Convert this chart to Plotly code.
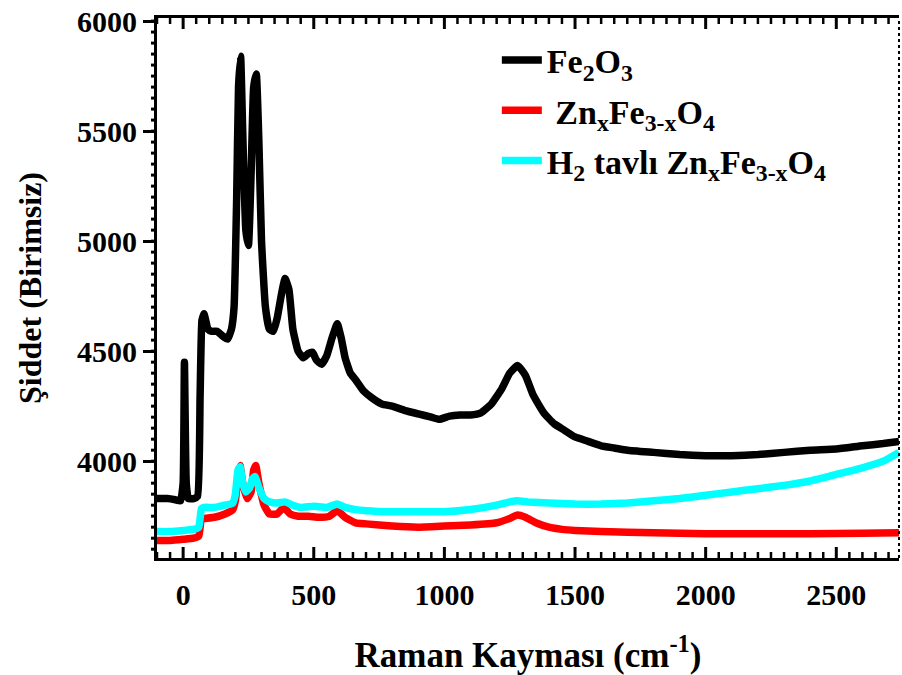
import plotly.graph_objects as go

# Fe2O3 (black)
fe_x = [-100, -60, -30, -10, 0, 5, 12, 20, 40, 55, 65, 72, 80, 95, 110, 130, 150, 170, 185, 195, 205, 212, 220, 228, 240, 250, 260, 270, 280, 290, 300, 315, 330, 345, 360, 375, 390, 405, 420, 440, 460, 480, 495, 510, 530, 550, 570, 590, 605, 620, 640, 660, 690, 720, 760, 800, 850, 900, 950, 980, 1020, 1060, 1100, 1140, 1180, 1220, 1250, 1280, 1310, 1340, 1380, 1420, 1460, 1500, 1550, 1600, 1650, 1700, 1800, 1900, 2000, 2100, 2200, 2300, 2400, 2500, 2600, 2680, 2740]
fe_y = [3830, 3830, 3825, 3820, 3900, 4450, 3900, 3830, 3830, 3840, 4300, 4640, 4670, 4600, 4590, 4590, 4570, 4555, 4600, 4700, 5200, 5700, 5840, 5500, 5050, 4980, 5300, 5700, 5760, 5450, 5000, 4700, 4600, 4590, 4650, 4750, 4830, 4780, 4600, 4500, 4470, 4490, 4495, 4460, 4440, 4480, 4560, 4625, 4560, 4470, 4400, 4370, 4320, 4290, 4260, 4250, 4230, 4215, 4200, 4190, 4205, 4210, 4210, 4220, 4260, 4330, 4400, 4435, 4390, 4300, 4220, 4170, 4140, 4110, 4090, 4070, 4060, 4050, 4040, 4030, 4025, 4025, 4030, 4040, 4050, 4055, 4070, 4080, 4090]

# ZnxFe3-xO4 (red)
zn_x = [-100, -50, 0, 40, 60, 70, 80, 120, 160, 190, 200, 210, 218, 228, 245, 260, 270, 278, 290, 310, 330, 360, 385, 410, 440, 480, 520, 560, 590, 620, 660, 700, 800, 900, 1000, 1100, 1200, 1250, 1280, 1310, 1350, 1400, 1450, 1500, 1600, 1800, 2000, 2200, 2400, 2600, 2740]
zn_y = [3640, 3640, 3645, 3650, 3660, 3740, 3740, 3745, 3760, 3780, 3820, 3930, 3980, 3900, 3830, 3860, 3960, 3980, 3900, 3800, 3760, 3760, 3790, 3760, 3750, 3750, 3745, 3750, 3775, 3745, 3720, 3715, 3705, 3700, 3705, 3710, 3720, 3740, 3755, 3745, 3720, 3700, 3690, 3685, 3680, 3675, 3670, 3670, 3670, 3672, 3675]

# H2 tavlı ZnxFe3-xO4 (cyan)
h2_x = [-100, -50, 0, 40, 60, 70, 80, 120, 160, 190, 200, 210, 218, 228, 240, 255, 265, 275, 290, 310, 330, 360, 390, 420, 450, 500, 550, 590, 620, 660, 700, 800, 900, 1000, 1100, 1200, 1250, 1280, 1320, 1400, 1500, 1600, 1700, 1800, 1900, 2000, 2100, 2200, 2300, 2400, 2500, 2600, 2680, 2740]
h2_y = [3680, 3680, 3685, 3690, 3700, 3785, 3790, 3790, 3800, 3810, 3850, 3960, 3975, 3900, 3860, 3880, 3920, 3930, 3880, 3830, 3815, 3810, 3815, 3800, 3790, 3795, 3790, 3805, 3790, 3780, 3775, 3770, 3770, 3770, 3780, 3800, 3815, 3820, 3815, 3810, 3805, 3805, 3810, 3820, 3830, 3845, 3860, 3875, 3890, 3910, 3940, 3970, 4000, 4040]

names = ["Fe<sub>2</sub>O<sub>3</sub>",
         " Zn<sub>x</sub>Fe<sub>3-x</sub>O<sub>4</sub>",
         "H<sub>2</sub> tavlı Zn<sub>x</sub>Fe<sub>3-x</sub>O<sub>4</sub>"]
colors = ["#000000", "#ff0000", "#00ffff"]

x_range = [-100, 2740]
y_range = [3560, 6014]
x_major = [0, 500, 1000, 1500, 2000, 2500]
x_minor = list(range(-100, 2741, 50))
y_minor = list(range(3600, 6001, 50))

FONT = "Liberation Serif"
W, H = 902, 675
ML, MR, MT, MB = 157, 3, 18, 117
PW, PH = W - ML - MR, H - MT - MB

fig = go.Figure()
for i, (xs, ys, nm, c) in enumerate([(fe_x, fe_y, names[0], colors[0]),
                                     (zn_x, zn_y, names[1], colors[1]),
                                     (h2_x, h2_y, names[2], colors[2])]):
    fig.add_trace(go.Scatter(x=xs, y=ys, mode="lines", name=nm, legendgroup=f"g{i}",
                             line=dict(color=c, width=7.5, shape="spline", smoothing=0.4)))

# tick marks as shapes: inside on bottom/top, outside minor on left
maj_len, min_len = 11 / PH, 6 / PH
for xv in x_minor:
    ln = maj_len if xv in x_major else min_len
    w = 3 if xv in x_major else 2.5
    fig.add_shape(type="line", xref="x", yref="y domain", x0=xv, x1=xv, y0=0, y1=ln,
                  line=dict(color="black", width=w), layer="above")
    fig.add_shape(type="line", xref="x", yref="y domain", x0=xv, x1=xv, y0=1 - ln, y1=1,
                  line=dict(color="black", width=w), layer="above")
for yv in y_minor:
    fig.add_shape(type="line", xref="x domain", yref="y", x0=-6 / PW, x1=0, y0=yv, y1=yv,
                  line=dict(color="black", width=3), layer="above")

fig.update_layout(
    width=W, height=H,
    margin=dict(l=ML, r=MR, t=MT, b=MB),
    paper_bgcolor="white", plot_bgcolor="white",
    font=dict(family=FONT, color="black", size=28, weight="bold"),
    showlegend=True,
    legend=dict(x=0.458, y=0.975, xanchor="left", yanchor="top",
                bgcolor="rgba(0,0,0,0)", font=dict(size=34, family=FONT, weight="bold", color="black"),
                tracegroupgap=3, itemwidth=40),
)
fig.update_xaxes(range=x_range, tickmode="array", tickvals=x_major,
                 showgrid=False, zeroline=False,
                 showline=True, linecolor="black", linewidth=3, mirror=True,
                 ticks="", ticklabelstandoff=8,
                 tickfont=dict(size=30, family=FONT, weight="bold", color="black"),
                 title=dict(text="Raman Kayması (cm<sup>-1</sup>)", standoff=34,
                            font=dict(size=35, family=FONT, weight="bold", color="black")))
fig.update_yaxes(range=y_range, tickmode="linear", tick0=4000, dtick=500,
                 showgrid=False, zeroline=False,
                 showline=True, linecolor="black", linewidth=3,
                 ticks="outside", ticklen=11, tickwidth=3, tickcolor="#000000",
                 tickfont=dict(size=30, family=FONT, weight="bold", color="black"),
                 title=dict(text="Şiddet (Birimsiz)", standoff=26,
                            font=dict(size=32, family=FONT, weight="bold", color="black")))
# dashed right border
fig.add_shape(type="line", xref="paper", yref="paper", x0=1, x1=1, y0=0, y1=1,
              line=dict(color="black", width=2, dash="dot"))

fig.write_html("out.html")
